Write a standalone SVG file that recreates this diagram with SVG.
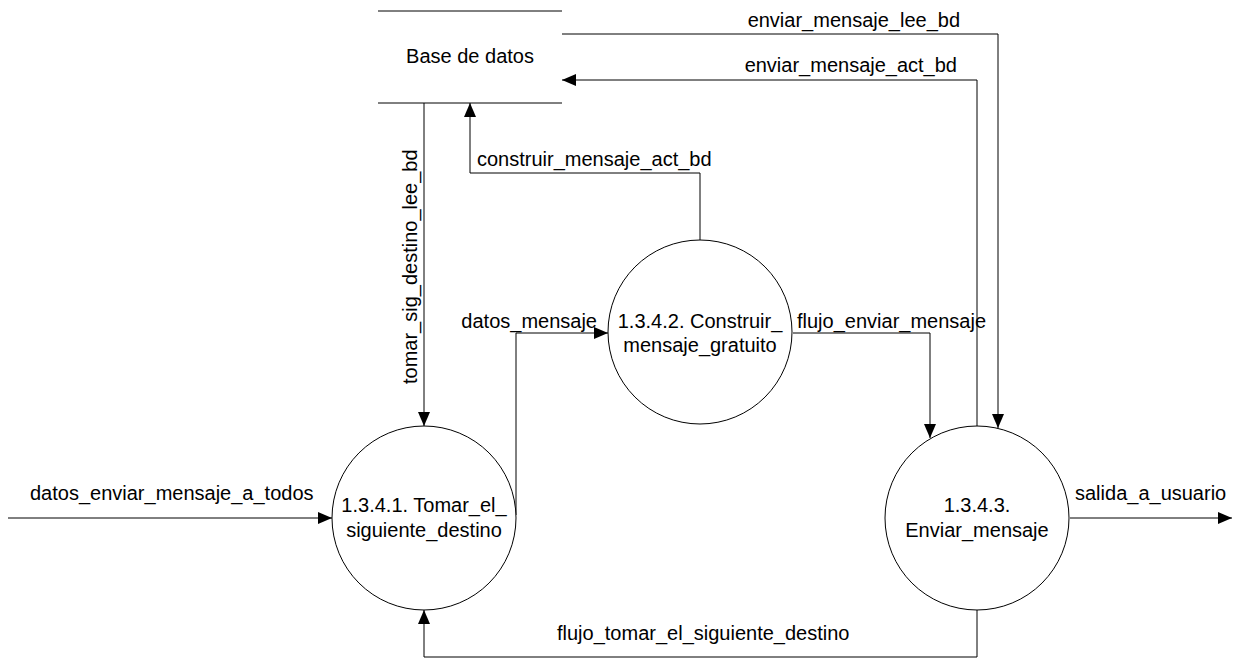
<svg xmlns="http://www.w3.org/2000/svg" width="1248" height="659" viewBox="0 0 1248 659">
<style>
text{font-family:"Liberation Sans",Arial,sans-serif;font-size:20px;fill:#000}
.c{text-anchor:middle}
.n{fill:#fff;stroke:#000;stroke-width:1}
.f{fill:none;stroke:#000;stroke-width:1}
</style>
<defs>
<marker id="a" viewBox="0 0 14 12" refX="14" refY="6" markerWidth="14" markerHeight="12" markerUnits="userSpaceOnUse" orient="auto">
<path d="M0,0L14,6L0,12Z" fill="#000"/>
</marker>
</defs>
<rect width="1248" height="659" fill="#fff"/>
<g id="store">
<line class="f" x1="378" y1="11" x2="562" y2="11"/>
<line class="f" x1="378" y1="103" x2="562" y2="103"/>
<text class="c" x="470" y="63">Base de datos</text>
</g>
<g id="connectors">
<path class="f" d="M562,34H998V428" marker-end="url(#a)"/>
<text x="960" y="27" text-anchor="end">enviar_mensaje_lee_bd</text>
<path class="f" d="M977,426V80H562" marker-end="url(#a)"/>
<text x="957" y="72" text-anchor="end">enviar_mensaje_act_bd</text>
<path class="f" d="M700,240V173H470V103" marker-end="url(#a)"/>
<text x="477" y="166">construir_mensaje_act_bd</text>
<path class="f" d="M424,103V426" marker-end="url(#a)"/>
<text transform="translate(417,384) rotate(-90)">tomar_sig_destino_lee_bd</text>
<path class="f" d="M516,515V333H608" marker-end="url(#a)"/>
<text x="597" y="328" text-anchor="end">datos_mensaje</text>
<path class="f" d="M793,333H930V438" marker-end="url(#a)"/>
<text x="797" y="328">flujo_enviar_mensaje</text>
<path class="f" d="M977,610V657H424V610" marker-end="url(#a)"/>
<text x="557" y="640">flujo_tomar_el_siguiente_destino</text>
<path class="f" d="M8,518H332" marker-end="url(#a)"/>
<text x="30" y="500">datos_enviar_mensaje_a_todos</text>
<path class="f" d="M1070,518H1232" marker-end="url(#a)"/>
<text x="1075" y="500">salida_a_usuario</text>
</g>
<g id="p1">
<circle class="n" cx="424" cy="518" r="92"/>
<text class="c" x="424" y="512">1.3.4.1. Tomar_el_</text>
<text class="c" x="424" y="537">siguiente_destino</text>
</g>
<g id="p2">
<circle class="n" cx="700" cy="332" r="92"/>
<text class="c" x="700" y="328">1.3.4.2. Construir_</text>
<text class="c" x="700" y="352">mensaje_gratuito</text>
</g>
<g id="p3">
<circle class="n" cx="977" cy="518" r="92"/>
<text class="c" x="977" y="512">1.3.4.3.</text>
<text class="c" x="977" y="537">Enviar_mensaje</text>
</g>
</svg>
